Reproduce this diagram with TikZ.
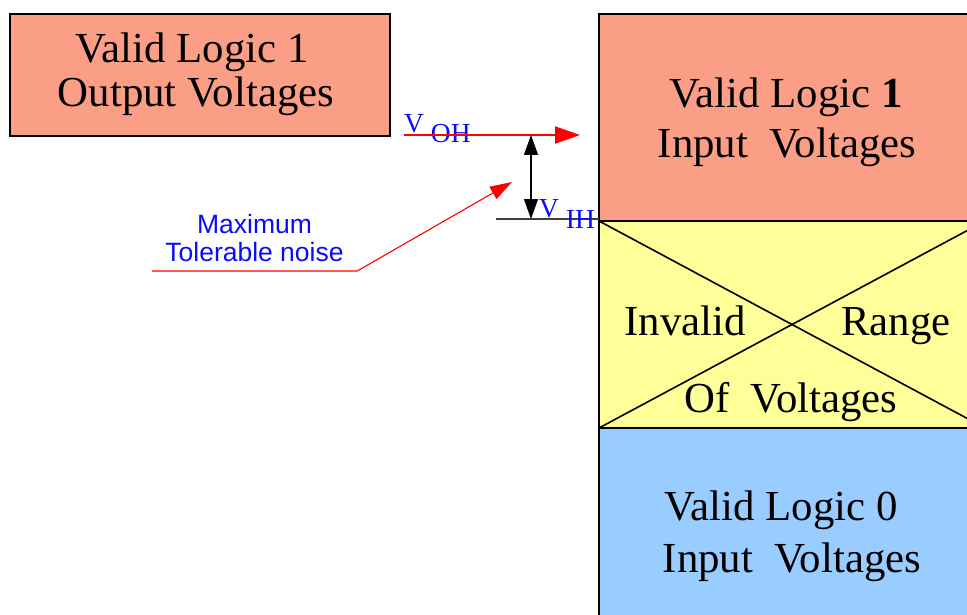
\documentclass[tikz,border=0pt]{standalone}
\usepackage{fontspec}
\setmainfont{Liberation Serif}
\newfontfamily\notefont{Liberation Sans}
\usetikzlibrary{positioning, arrows.meta}

\definecolor{hiFill}{RGB}{250,159,134}
\definecolor{badFill}{RGB}{255,255,153}
\definecolor{loFill}{RGB}{153,204,255}
\definecolor{voltBlue}{RGB}{10,10,255}

\tikzset{
  region/.style={draw=black, line width=2.8pt, inner sep=0pt, outer sep=0pt, anchor=north west},
  bigtext/.style={font=\fontsize{42.8}{46}\selectfont, inner sep=0pt, anchor=base},
  volttext/.style={text=voltBlue, font=\fontsize{27.5}{29}\selectfont, inner sep=0pt, anchor=base west},
}

\begin{document}
\begin{tikzpicture}[x=1pt, y=-1pt, >=latex]
\clip (0,0) rectangle (967,615);

% Vystupni uroven logicke 1
\node[region, fill=hiFill, minimum width=380pt, minimum height=122pt] (outbox) at (10,14) {};
\node[bigtext] (out1) at (192,63) {Valid Logic 1};
\node[bigtext] (out2) at (196,107) {Output Voltages};

% Vstupni pasma (pravy sloupec)
\node[region, fill=hiFill, minimum width=386pt, minimum height=207pt] (in1box) at (599,14) {};
\node[region, fill=badFill, minimum width=386pt, minimum height=207pt] (badbox) at (599,221) {};
\node[region, fill=loFill, minimum width=386pt, minimum height=200pt] (in0box) at (599,428) {};

% krizek pres neplatne pasmo
\draw[line width=1.6pt] (badbox.north west) -- (badbox.south east);
\draw[line width=1.6pt] (badbox.south west) -- (badbox.north east);

\node[bigtext] (in1a) at (786,108) {Valid Logic \textbf{1}};
\node[bigtext] (in1b) at (787,158) {Input~ Voltages};
\node[bigtext] (bad1) at (685,335) {Invalid};
\node[bigtext] (bad2) at (896,335) {Range};
\node[bigtext] (bad3) at (791,412) {Of~ Voltages};
\node[bigtext] (in0a) at (781,520) {Valid Logic 0};
\node[bigtext] (in0b) at (792,572) {Input~ Voltages};

% V_OH a V_IH
\coordinate (ohA) at (404,135);
\coordinate (ohB) at (580,135);
\coordinate (gapT) at (531,135);
\coordinate (gapB) at (531,219);
\coordinate (ihA) at (496,219);

\node[volttext] (voh) at (404,133) {V \raisebox{-10pt}{OH}};
\draw[red, line width=2pt, -{Triangle[length=25pt, width=17pt]}] (ohA) -- (ohB);

\draw[black!75, line width=1.2pt] (ihA) -- (ihA -| in1box.west);
\node[volttext] (vih) at (539,218) {V \raisebox{-10pt}{IH}};
\draw[line width=1.3pt, {Triangle[length=20pt, width=14pt]}-{Triangle[length=20pt, width=14pt]}] (gapT) -- (gapB);

% popisek sumove imunity
\coordinate (nzTip) at (512,182);
\node[text=voltBlue, font=\notefont\fontsize{26.5}{28}\selectfont, align=center,
      anchor=south, inner xsep=0pt, inner ysep=9pt, text depth=0pt, minimum width=205pt]
      (noise) at (254.5,271) {Maximum\\Tolerable noise};
\draw[red, line width=1.1pt, -{Triangle[length=22pt, width=14pt]}] (noise.south west) -- (noise.south east) -- (nzTip);

\end{tikzpicture}
\end{document}
